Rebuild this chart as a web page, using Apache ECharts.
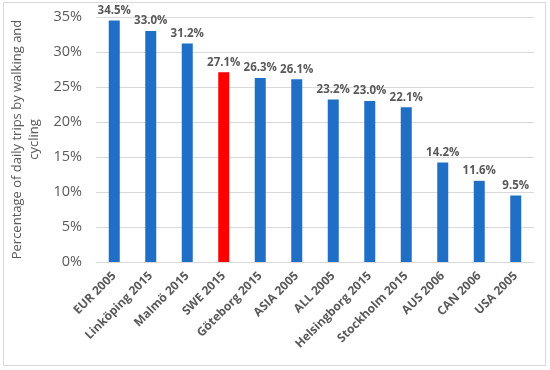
<!DOCTYPE html>
<html><head><meta charset="utf-8">
<script src="https://cdn.jsdelivr.net/npm/echarts@6/dist/echarts.min.js"></script>
<style>html,body{margin:0;padding:0;background:#fff}#c{position:absolute;left:0;top:0;width:550px;height:370px}#b{position:absolute;left:3px;top:2px;width:541px;height:362px;border:1px solid #d9d9d9;pointer-events:none}</style>
</head><body><div id="c"></div><div id="b"></div>
<script>
const categories = ["EUR 2005","Linköping 2015","Malmö 2015","SWE 2015","Göteborg 2015","ASIA 2005","ALL 2005","Helsingborg 2015","Stockholm 2015","AUS 2006","CAN 2006","USA 2005"];
const values = [34.5,33.0,31.2,27.1,26.3,26.1,23.2,23.0,22.1,14.2,11.6,9.5];
const highlight = "SWE 2015";
const yTicks = [0,5,10,15,20,25,30,35];
const yName = "Percentage of daily trips by walking and\ncycling";
const font = "Open Sans";
const chart = echarts.init(document.getElementById('c'));
chart.setOption({
  animation:false,
  textStyle:{fontFamily:font},
  grid:{left:96,right:16,top:17,bottom:108},
  xAxis:{type:'category',data:categories,
    axisLine:{lineStyle:{color:'#d9d9d9'}},axisTick:{show:false},
    axisLabel:{rotate:45,interval:0,color:'#595959',fontSize:12,fontWeight:'bold',margin:12,fontFamily:font}},
  yAxis:{type:'value',min:yTicks[0],max:yTicks[yTicks.length-1],interval:5,
    name:yName,nameLocation:'middle',nameGap:44,nameRotate:90,
    nameTextStyle:{color:'#595959',fontSize:13,fontWeight:'normal',lineHeight:17,fontFamily:font},
    axisLine:{show:false},axisTick:{show:false},
    splitLine:{lineStyle:{color:'#d9d9d9'}},
    axisLabel:{formatter:'{value}%',color:'#595959',fontSize:14.5,margin:14,fontFamily:font}},
  series:[{type:'bar',barWidth:11,
    data:values.map((v,i)=>({value:v,itemStyle:{color:categories[i]===highlight?'#ff0000':'#1f6fc6'}})),
    label:{show:true,position:'top',distance:4,formatter:p=>p.value.toFixed(1)+'%',color:'#595959',fontSize:11.5,fontWeight:'bold',fontFamily:font}}]
});
</script></body></html>
